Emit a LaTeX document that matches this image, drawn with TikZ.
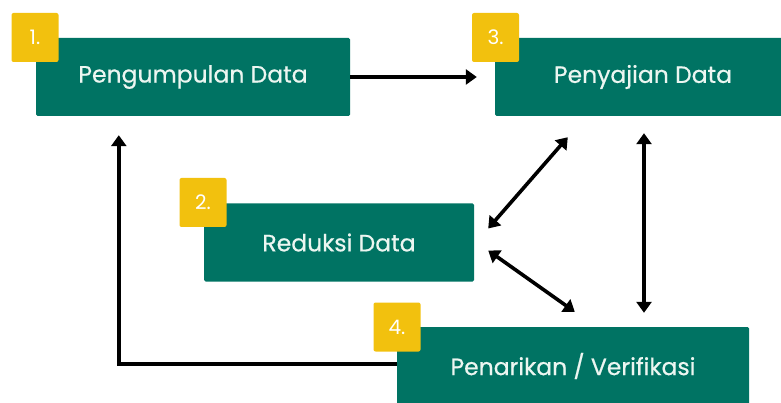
\documentclass[tikz,border=0pt]{standalone}
\usepackage{fontspec}
\setmainfont{Poppins}
\newfontfamily\stagefont{Poppins}[FakeBold=0.6]
\usetikzlibrary{arrows.meta}
\definecolor{stepgreen}{RGB}{0,115,99}
\definecolor{badgeyellow}{RGB}{242,193,14}
\definecolor{labelwhite}{RGB}{236,246,241}

\begin{document}
\begin{tikzpicture}[x=1pt, y=-1pt,
    stagebox/.style={fill=stepgreen, rounded corners=1.5pt, minimum height=78pt, inner sep=0pt, text=labelwhite, font=\stagefont\fontsize{23.5}{26}\selectfont},
    badge/.style={fill=badgeyellow, rounded corners=2pt, minimum width=47pt, minimum height=49pt, inner sep=0pt, text=white, font=\fontsize{20}{22}\selectfont},
    flow/.style={line width=3.6pt, -{Triangle[length=11pt,width=15pt]}},
    twoway/.style={line width=3.6pt, {Triangle[length=11pt,width=15pt]}-{Triangle[length=11pt,width=15pt]}}]
    \useasboundingbox (0,0) rectangle (781,403);

    % Stages
    \node[stagebox, minimum width=314pt] (p1) at (193,77) {Pengumpulan Data};
    \node[stagebox, minimum width=270pt] (p2) at (339,242.5) {Reduksi Data};
    \node[stagebox, minimum width=296pt] (p3) at (643,77) {Penyajian Data};
    \node[stagebox, minimum width=352pt] (p4) at (573,366) {Penarikan / Verifikasi};

    % Numbers
    \node[badge] (b1) at (35,37.5) {1.};
    \node[badge] (b2) at (203,202.5) {2.};
    \node[badge] (b3) at (495.5,37.5) {3.};
    \node[badge] (b4) at (397,327) {4.};

    % Arrows
    \draw[flow, shorten >=18pt] (p1.east) -- (p3.west);
    \draw[twoway] ([shift={(73,21)}]p3.south west) -- ([shift={(14,-14)}]p2.east);
    \draw[twoway] ([shift={(14,8)}]p2.east) -- ([shift={(178,-15)}]p4.north west);
    \draw[twoway] ([shift={(1,17)}]p3.south) -- ([shift={(1,-14)}]p3.south |- p4.north);

    % Back to start
    \draw[flow] ([yshift=2pt]p4.west) -| ([shift={(83,19)}]p1.south west);
\end{tikzpicture}
\end{document}
